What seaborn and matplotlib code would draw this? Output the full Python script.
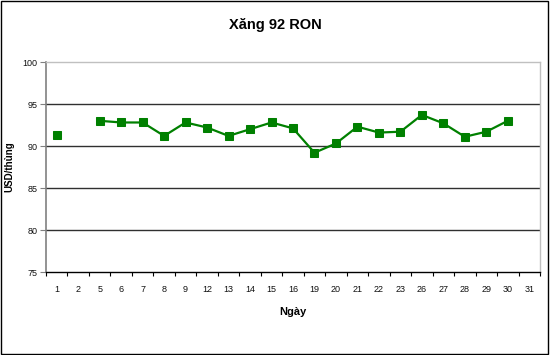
import numpy as np
import pandas as pd
import matplotlib
matplotlib.use("Agg")
import matplotlib.pyplot as plt
import seaborn as sns
from matplotlib.patches import Rectangle

days = ["1", "2", "5", "6", "7", "8", "9", "12", "13", "14", "15", "16",
        "19", "20", "21", "22", "23", "26", "27", "28", "29", "30", "31"]
prices = [91.3, np.nan, 93.0, 92.8, 92.8, 91.2, 92.8, 92.2, 91.2, 92.0, 92.8, 92.1,
          89.2, 90.3, 92.3, 91.6, 91.7, 93.7, 92.7, 91.1, 91.7, 93.0, np.nan]
y_ticks = [75, 80, 85, 90, 95, 100]

sns.set_theme(style="white")
plt.rcParams["font.family"] = ["Liberation Sans", "DejaVu Sans"]
plt.rcParams["text.color"] = "black"
plt.rcParams["axes.labelcolor"] = "black"

df = pd.DataFrame({"day": days, "price": prices})
df["pos"] = np.arange(len(days))
df["seg"] = df["price"].isna().cumsum()
df = df.dropna(subset=["price"])

fig = plt.figure(figsize=(5.5, 3.55), dpi=100)
ax = fig.add_axes([46 / 550, 1 - 272 / 355, (540 - 46) / 550, (272 - 62) / 355])

sns.lineplot(data=df, x="pos", y="price", units="seg", estimator=None,
             color="#008000", linewidth=1.6, marker="s", markersize=5.5,
             markeredgecolor="#008000", ax=ax, legend=False, zorder=3)

ax.set_xlim(-0.5, len(days) - 0.5)
ax.set_ylim(75, 100)
ax.set_yticks(y_ticks)
ax.set_yticklabels([str(v) for v in y_ticks], fontsize=6.5, color="#111111")
ax.set_xticks(np.arange(len(days)))
ax.set_xticklabels(days, fontsize=6.5, color="#111111")
ax.set_xticks(np.arange(len(days) + 1) - 0.5, minor=True)
ax.tick_params(axis="x", which="major", length=0, pad=9)
ax.tick_params(axis="x", which="minor", length=3, width=0.8, color="black",
               direction="out", bottom=True)
ax.tick_params(axis="y", which="major", length=4, width=0.8, color="#808080",
               direction="out", left=True, pad=2)

for v in [80, 85, 90, 95]:
    ax.axhline(v, color="#303030", linewidth=1.0, zorder=1)

for s in ["top", "right"]:
    ax.spines[s].set_color("#c0c0c0")
    ax.spines[s].set_linewidth(1.0)
ax.spines["left"].set_color("#808080")
ax.spines["left"].set_linewidth(1.2)
ax.spines["bottom"].set_color("black")
ax.spines["bottom"].set_linewidth(1.0)

ax.set_xlabel("Ngày", fontsize=8, fontweight="bold", labelpad=10, color="black")
ax.set_ylabel("USD/thùng", fontsize=7, fontweight="bold", labelpad=6, color="black")

fig.text(0.5, 1 - 25 / 355, "Xăng 92 RON", ha="center", va="center",
         fontsize=10.5, fontweight="bold", color="black")

fig.patches.append(Rectangle((0.001, 0.002), 0.996, 0.995, transform=fig.transFigure,
                             fill=False, edgecolor="black", linewidth=1.0))

fig.savefig("out.png", dpi=100)
